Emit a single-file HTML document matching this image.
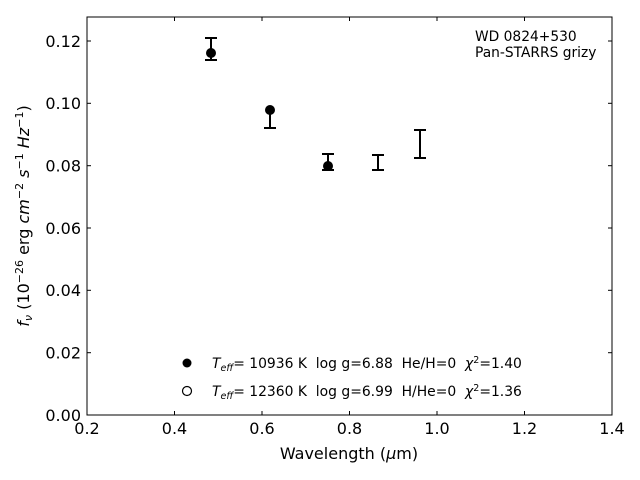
<!DOCTYPE html>
<html><head><style>body{margin:0;background:#fff}svg{display:block}text{white-space:pre}</style></head><body>
<svg width="640" height="480" xmlns="http://www.w3.org/2000/svg" font-family="DejaVu Sans, Liberation Sans, sans-serif">
<rect x="87" y="17" width="525" height="398" fill="none" stroke="#000" stroke-width="1"/>
<g stroke="#000" stroke-width="1">
<line x1="87" y1="352.7" x2="91" y2="352.7"/><line x1="612" y1="352.7" x2="608" y2="352.7"/>
<line x1="87" y1="290.3" x2="91" y2="290.3"/><line x1="612" y1="290.3" x2="608" y2="290.3"/>
<line x1="87" y1="228" x2="91" y2="228"/><line x1="612" y1="228" x2="608" y2="228"/>
<line x1="87" y1="165.7" x2="91" y2="165.7"/><line x1="612" y1="165.7" x2="608" y2="165.7"/>
<line x1="87" y1="103.3" x2="91" y2="103.3"/><line x1="612" y1="103.3" x2="608" y2="103.3"/>
<line x1="87" y1="41" x2="91" y2="41"/><line x1="612" y1="41" x2="608" y2="41"/>
<line x1="174.5" y1="415" x2="174.5" y2="411"/><line x1="174.5" y1="17" x2="174.5" y2="21"/>
<line x1="262" y1="415" x2="262" y2="411"/><line x1="262" y1="17" x2="262" y2="21"/>
<line x1="349.5" y1="415" x2="349.5" y2="411"/><line x1="349.5" y1="17" x2="349.5" y2="21"/>
<line x1="437" y1="415" x2="437" y2="411"/><line x1="437" y1="17" x2="437" y2="21"/>
<line x1="524.5" y1="415" x2="524.5" y2="411"/><line x1="524.5" y1="17" x2="524.5" y2="21"/>
</g>
<g font-size="16" text-anchor="end" fill="#000">
<text x="81" y="421">0.00</text><text x="81" y="358.5">0.02</text><text x="81" y="296">0.04</text>
<text x="81" y="234">0.06</text><text x="81" y="171.5">0.08</text><text x="81" y="109">0.10</text><text x="81" y="47">0.12</text>
</g>
<g font-size="16" text-anchor="middle">
<text x="87" y="434">0.2</text><text x="174.5" y="434">0.4</text><text x="262" y="434">0.6</text><text x="349.5" y="434">0.8</text>
<text x="437" y="434">1.0</text><text x="524.5" y="434">1.2</text><text x="612" y="434">1.4</text>
<text x="349" y="459" font-size="16">Wavelength (<tspan font-style="italic">μ</tspan>m)</text>
</g>
<text transform="translate(29,216) rotate(-90)" text-anchor="middle" font-size="16"><tspan font-style="italic">f<tspan font-size="11" dy="3">ν</tspan></tspan><tspan dy="-3"> (10</tspan><tspan font-size="11" dy="-6">−26</tspan><tspan dy="6"> erg </tspan><tspan font-style="italic">cm</tspan><tspan font-size="11" dy="-6">−2</tspan><tspan dy="6" font-style="italic"> s</tspan><tspan font-size="11" dy="-6">−1</tspan><tspan dy="6" font-style="italic"> Hz</tspan><tspan font-size="11" dy="-6">−1</tspan><tspan dy="6">)</tspan></text>
<g stroke="#000" stroke-width="2">
<line x1="211" y1="38" x2="211" y2="60"/><line x1="205" y1="38" x2="217" y2="38"/><line x1="205" y1="60" x2="217" y2="60"/>
<line x1="270" y1="108" x2="270" y2="128"/><line x1="264" y1="128" x2="276" y2="128"/>
<line x1="328" y1="154" x2="328" y2="170"/><line x1="322" y1="154" x2="334" y2="154"/><line x1="322" y1="170" x2="334" y2="170"/>
<line x1="378" y1="155" x2="378" y2="170"/><line x1="372" y1="155" x2="384" y2="155"/><line x1="372" y1="170" x2="384" y2="170"/>
<line x1="420" y1="130" x2="420" y2="158"/><line x1="414" y1="130" x2="426" y2="130"/><line x1="414" y1="158" x2="426" y2="158"/>
</g>
<circle cx="211" cy="53" r="5" fill="#000"/><circle cx="270" cy="110" r="5" fill="#000"/><circle cx="328" cy="166" r="5" fill="#000"/>
<text x="475" y="41" font-size="13.8">WD 0824+530</text>
<text x="475" y="57" font-size="13.8">Pan-STARRS grizy</text>
<circle cx="187" cy="363" r="4.5" fill="#000"/>
<circle cx="187" cy="391" r="4.5" fill="#fff" stroke="#000" stroke-width="1.2"/>
<g font-size="13.9">
<text x="212" y="368"><tspan font-style="italic">T<tspan font-size="9.5" dy="3">eff</tspan></tspan><tspan dy="-3">= 10936 K  log g=6.88  He/H=0  </tspan><tspan font-style="italic">χ</tspan><tspan font-size="9.5" dy="-5">2</tspan><tspan dy="5">=1.40</tspan></text>
<text x="212" y="396"><tspan font-style="italic">T<tspan font-size="9.5" dy="3">eff</tspan></tspan><tspan dy="-3">= 12360 K  log g=6.99  H/He=0  </tspan><tspan font-style="italic">χ</tspan><tspan font-size="9.5" dy="-5">2</tspan><tspan dy="5">=1.36</tspan></text>
</g>
</svg>
</body></html>
